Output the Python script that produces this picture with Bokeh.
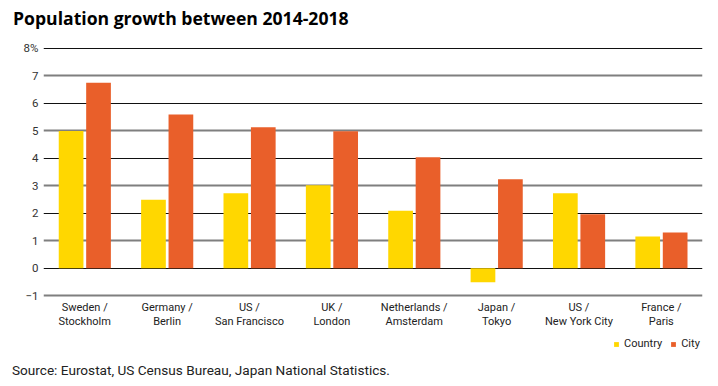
from bokeh.plotting import figure
from bokeh.models import (ColumnDataSource, FactorRange, FixedTicker, Grid, Title,
                          Legend, LegendItem, Range1d)
from bokeh.transform import dodge
from bokeh.embed import file_html
from bokeh.resources import INLINE

# ---- data ----
categories = ["Sweden /\nStockholm", "Germany /\nBerlin", "US /\nSan Francisco",
              "UK /\nLondon", "Netherlands /\nAmsterdam", "Japan /\nTokyo",
              "US /\nNew York City", "France /\nParis"]
country = [5.0, 2.5, 2.73, 3.02, 2.1, -0.51, 2.73, 1.16]
city = [6.75, 5.6, 5.13, 4.99, 4.04, 3.24, 1.97, 1.3]
y_ticks = [-1, 0, 1, 2, 3, 4, 5, 6, 7, 8]
y_tick_labels = {8: "8%"}
title_text = "Population growth between 2014-2018"
source_text = "Source: Eurostat, US Census Bureau, Japan National Statistics."
series_names = ["Country", "City"]

YELLOW = "#FFD700"
ORANGE = "#E95F2A"
FONT = "Roboto"

src = ColumnDataSource(dict(cat=categories, country=country, city=city))

# frame: y=8 at ~48px, y=-1 at ~295px; frame extends down to hold the legend
p = figure(width=710, height=378, output_backend="svg", toolbar_location=None,
           x_range=FactorRange(factors=categories, range_padding=0),
           y_range=Range1d(-3.281, 8.036),
           min_border_left=43, min_border_right=8, min_border_top=47,
           min_border_bottom=20)
p.outline_line_color = None
p.background_fill_color = "white"
p.border_fill_color = "white"

r1 = p.vbar(x=dodge("cat", -0.165, range=p.x_range), top="country", width=0.30,
            source=src, fill_color=YELLOW, line_color=None)
r2 = p.vbar(x=dodge("cat", 0.168, range=p.x_range), top="city", width=0.30,
            source=src, fill_color=ORANGE, line_color=None)

# category labels under the lowest grid line
p.text(x="cat", y=-1.2, text="cat", source=src, text_align="center",
       text_baseline="top", text_font_size="11px", text_color="#222222",
       text_line_height=1.07, text_font={"value": FONT})

# grids: even values black thin, odd values gray thicker
p.xgrid.grid_line_color = None
p.ygrid.ticker = FixedTicker(ticks=[t for t in y_ticks if t % 2 == 0])
p.ygrid.grid_line_color = "#111111"
p.ygrid.grid_line_width = 1.2
odd_grid = Grid(dimension=1, ticker=FixedTicker(ticks=[t for t in y_ticks if t % 2 != 0]),
                grid_line_color="#7f7f7f", grid_line_width=2)
p.add_layout(odd_grid)

# y axis
p.yaxis.ticker = FixedTicker(ticks=y_ticks)
p.yaxis.major_label_overrides = y_tick_labels
p.yaxis.axis_line_color = None
p.yaxis.major_tick_line_color = None
p.yaxis.minor_tick_line_color = None
p.yaxis.major_tick_out = 0
p.yaxis.major_label_standoff = 5
p.yaxis.major_label_text_font = FONT
p.yaxis.major_label_text_font_size = "11.5px"
p.yaxis.major_label_text_color = "#333333"

# x axis carries no visible marks (labels drawn as text above)
p.xaxis.visible = False

# spacer between frame and title (closest to the frame), then the title
p.add_layout(Title(text=" ", text_font_size="1px", standoff=14), "above")
p.add_layout(Title(text=title_text, align="left", offset=-30.5, standoff=2,
                   text_font="Open Sans", text_font_style="bold",
                   text_font_size="17.6px", text_color="#000000"), "above")

# legend inside the frame's lower strip, right aligned
legend = Legend(items=[LegendItem(label=series_names[0], renderers=[r1]),
                       LegendItem(label=series_names[1], renderers=[r2])],
                orientation="horizontal", location=(570, 8),
                glyph_width=6, glyph_height=6, label_standoff=5, spacing=8,
                padding=0, margin=0, border_line_color=None,
                background_fill_alpha=0, label_text_font=FONT,
                label_text_font_size="11px", label_text_color="#222222",
                label_height=6)
p.add_layout(legend, "center")

# source note
p.add_layout(Title(text=source_text, align="left", offset=-31.5, standoff=2,
                   text_font=FONT, text_font_size="13.6px", text_font_style="normal",
                   text_color="#222222"), "below")

open("out.html", "w").write(file_html(p, INLINE))
